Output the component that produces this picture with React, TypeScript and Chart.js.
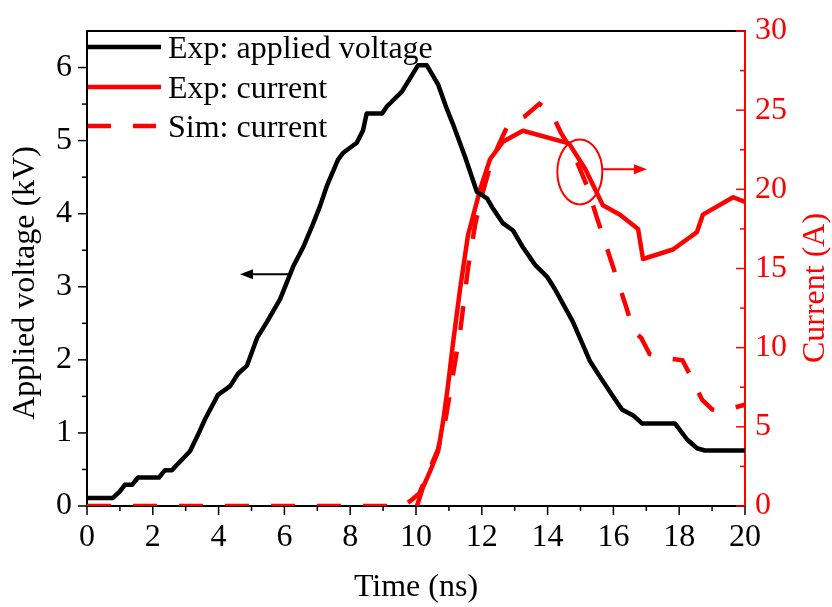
import React, { useEffect, useRef } from 'react';
import { Chart, registerables } from 'chart.js';

Chart.register(...registerables);

// ---------- data ----------
const voltageTime = [
  0, 0.79, 1.0, 1.15, 1.37, 1.55, 2.19, 2.37, 2.58, 2.83, 3.13, 3.37, 3.59, 3.98, 4.35, 4.59, 4.86,
  5.17, 5.47, 5.87, 6.27, 6.57, 6.87, 7.08, 7.29, 7.63, 7.78, 8.2, 8.39, 8.5, 8.97, 9.12, 9.57, 9.72,
  10.06, 10.33, 10.67, 10.94, 11.12, 11.49, 11.85, 12.16, 12.34, 12.64, 12.95, 13.25, 13.62, 13.98,
  14.22, 14.77, 15.29, 15.59, 15.99, 16.26, 16.6, 16.87, 17.87, 18.24, 18.54, 18.78, 20,
];
const voltageKV = [
  0.11, 0.11, 0.2, 0.29, 0.29, 0.39, 0.39, 0.49, 0.49, 0.61, 0.75, 0.97, 1.19, 1.52, 1.64, 1.81, 1.92,
  2.3, 2.52, 2.83, 3.28, 3.54, 3.86, 4.1, 4.38, 4.74, 4.83, 4.97, 5.14, 5.37, 5.37, 5.47, 5.67, 5.78,
  6.03, 6.03, 5.77, 5.43, 5.23, 4.78, 4.3, 4.21, 4.07, 3.87, 3.77, 3.54, 3.3, 3.14,
  2.97, 2.52, 1.98, 1.77, 1.5, 1.32, 1.24, 1.13, 1.13, 0.91, 0.79, 0.76, 0.76,
];

const expCurrentTime = [
  10.03, 10.21, 10.43, 10.67, 10.82, 10.97, 11.12, 11.34, 11.58, 11.95, 12.25, 12.64, 13.25, 14.65,
  15.14, 15.68, 16.2, 16.75, 16.9, 17.81, 18.54, 18.72, 19.64, 20,
];
const expCurrentA = [
  0, 1.17, 2.2, 3.44, 5.29, 7.56, 10.2, 13.7, 17.1, 20.0, 21.9, 23.0, 23.7, 22.9,
  21.3, 19.0, 18.4, 17.5, 15.6, 16.2, 17.3, 18.4, 19.5, 19.2,
];

const simCurrentTime = [
  0, 9.6, 9.82, 10.1, 10.35, 10.67, 10.9, 11.1, 11.34, 11.58, 11.8, 12.0, 12.3, 12.6, 12.85, 13.3,
  13.75, 14.1, 14.4, 14.8, 15.2, 15.5, 15.8, 16.1, 16.4, 16.6, 16.85, 17.1, 17.4, 18.1, 18.3, 18.7,
  19.0, 19.3, 20,
];
const simCurrentA = [
  0, 0, 0.3, 0.8, 2.0, 3.6, 5.5, 8.0, 11.0, 15.0, 17.8, 19.6, 21.8, 23.2, 24.3, 24.6,
  25.4, 24.9, 23.6, 22.2, 20.2, 18.2, 16.3, 14.4, 12.5, 11.1, 10.6, 9.6, 9.4, 9.2, 8.4, 6.7,
  6.1, 6.0, 6.4,
];

const legendLabels = ['Exp: applied voltage', 'Exp: current', 'Sim: current'];
const xTitle = 'Time (ns)';
const yTitle = 'Applied voltage (kV)';
const y2Title = 'Current (A)';

// annotation anchors in data units
const voltageArrow = { fromT: 6.11, toT: 4.65, kV: 3.17 };
const currentEllipse = { t: 14.98, amps: 21.1 };
const currentArrow = { fromT: 15.68, toT: 17.02, amps: 21.27 };

// ---------- styles ----------
const SERIF = '"Liberation Serif", "Times New Roman", Times, serif';
const RED = '#ff0000';
const BLACK = '#000000';

const pts = (xs: number[], ys: number[]) => xs.map((x, i) => ({ x, y: ys[i] }));

function arrow(ctx: CanvasRenderingContext2D, x1: number, y: number, x2: number, color: string) {
  const dir = x2 > x1 ? 1 : -1;
  const head = 13;
  ctx.strokeStyle = color;
  ctx.fillStyle = color;
  ctx.lineWidth = 2;
  ctx.beginPath();
  ctx.moveTo(x1, y);
  ctx.lineTo(x2 - dir * head, y);
  ctx.stroke();
  ctx.beginPath();
  ctx.moveTo(x2, y);
  ctx.lineTo(x2 - dir * head, y - 5);
  ctx.lineTo(x2 - dir * head, y + 5);
  ctx.closePath();
  ctx.fill();
}

const decorPlugin = {
  id: 'decor',
  afterDraw(chart: any) {
    const { ctx, chartArea: ca, scales } = chart;
    const { x, y, y2 } = scales;
    ctx.save();
    ctx.setLineDash([]);
    ctx.lineCap = 'butt';

    // top frame line
    ctx.strokeStyle = BLACK;
    ctx.lineWidth = 2;
    ctx.beginPath();
    ctx.moveTo(ca.left, ca.top);
    ctx.lineTo(ca.right, ca.top);
    ctx.stroke();

    // tick marks
    ctx.lineWidth = 1.5;
    ctx.strokeStyle = BLACK;
    x.ticks.forEach((t: any) => {
      const px = x.getPixelForValue(t.value);
      const len = t.value % 2 === 0 ? 9 : 5;
      ctx.beginPath();
      ctx.moveTo(px, ca.bottom);
      ctx.lineTo(px, ca.bottom + len);
      ctx.stroke();
    });
    y.ticks.forEach((t: any) => {
      if (t.value > 6) return;
      const py = y.getPixelForValue(t.value);
      const len = Number.isInteger(t.value) ? 9 : 5;
      ctx.beginPath();
      ctx.moveTo(ca.left - len, py);
      ctx.lineTo(ca.left, py);
      ctx.stroke();
    });
    ctx.strokeStyle = RED;
    y2.ticks.forEach((t: any) => {
      const py = y2.getPixelForValue(t.value);
      const len = t.value % 5 === 0 ? 9 : 5;
      ctx.beginPath();
      ctx.moveTo(ca.right - len, py);
      ctx.lineTo(ca.right, py);
      ctx.stroke();
    });

    // annotations
    const vy = y.getPixelForValue(voltageArrow.kV);
    arrow(ctx, x.getPixelForValue(voltageArrow.fromT), vy, x.getPixelForValue(voltageArrow.toT), BLACK);
    ctx.strokeStyle = RED;
    ctx.lineWidth = 2;
    ctx.beginPath();
    ctx.ellipse(x.getPixelForValue(currentEllipse.t), y2.getPixelForValue(currentEllipse.amps), 22.5, 32.5, 0, 0, Math.PI * 2);
    ctx.stroke();
    const cy = y2.getPixelForValue(currentArrow.amps);
    arrow(ctx, x.getPixelForValue(currentArrow.fromT), cy, x.getPixelForValue(currentArrow.toT), RED);

    // legend
    const rows = [
      { dy: 16, color: BLACK, dash: [] as number[] },
      { dy: 56, color: RED, dash: [] as number[] },
      { dy: 95, color: RED, dash: [23, 22] },
    ];
    ctx.font = `32px ${SERIF}`;
    ctx.textBaseline = 'alphabetic';
    ctx.textAlign = 'left';
    rows.forEach((r, i) => {
      const ly = ca.top + r.dy;
      ctx.strokeStyle = r.color;
      ctx.lineWidth = 4.5;
      ctx.setLineDash(r.dash);
      ctx.beginPath();
      ctx.moveTo(ca.left + 1, ly);
      ctx.lineTo(ca.left + 74, ly);
      ctx.stroke();
      ctx.setLineDash([]);
      ctx.fillStyle = BLACK;
      ctx.fillText(legendLabels[i], ca.left + 81, ly + 11);
    });

    // axis titles
    ctx.font = `32px ${SERIF}`;
    ctx.fillStyle = BLACK;
    ctx.textAlign = 'center';
    ctx.fillText(xTitle, (ca.left + ca.right) / 2, 596);

    ctx.save();
    ctx.translate(34, 283);
    ctx.rotate(-Math.PI / 2);
    ctx.fillText(yTitle, 0, 0);
    ctx.restore();

    ctx.save();
    ctx.fillStyle = RED;
    ctx.translate(824, 288);
    ctx.rotate(-Math.PI / 2);
    ctx.fillText(y2Title, 0, 0);
    ctx.restore();

    ctx.restore();
  },
};

export default function App() {
  const canvasRef = useRef<HTMLCanvasElement | null>(null);

  useEffect(() => {
    const canvas = canvasRef.current;
    if (!canvas) return;
    const tickFont = { family: SERIF, size: 32, lineHeight: 1.0 };
    const chart = new Chart(canvas, {
      type: 'line',
      data: {
        datasets: [
          {
            label: legendLabels[0],
            data: pts(voltageTime, voltageKV),
            yAxisID: 'y',
            borderColor: BLACK,
            borderWidth: 4.5,
            pointRadius: 0,
            tension: 0,
            borderJoinStyle: 'round',
            fill: false,
          },
          {
            label: legendLabels[1],
            data: pts(expCurrentTime, expCurrentA),
            yAxisID: 'y2',
            borderColor: RED,
            borderWidth: 4.5,
            pointRadius: 0,
            tension: 0,
            borderJoinStyle: 'round',
            fill: false,
          },
          {
            label: legendLabels[2],
            data: pts(simCurrentTime, simCurrentA),
            yAxisID: 'y2',
            borderColor: RED,
            borderWidth: 4.5,
            borderDash: [24, 22],
            pointRadius: 0,
            tension: 0,
            fill: false,
          },
        ],
      } as any,
      options: {
        responsive: false,
        devicePixelRatio: 1,
        animation: false,
        layout: { padding: { top: 17, left: 0, right: 0, bottom: 0 } },
        plugins: { legend: { display: false }, tooltip: { enabled: false } },
        scales: {
          x: {
            type: 'linear',
            min: 0,
            max: 20,
            ticks: {
              stepSize: 1,
              autoSkip: false,
              maxRotation: 0,
              color: BLACK,
              font: tickFont,
              padding: 16,
              callback: (v: any) => (v % 2 === 0 ? String(v) : ''),
            },
            grid: { display: false, drawTicks: false },
            border: { display: true, color: BLACK, width: 2 },
            afterFit: (s: any) => { s.height = 101; },
          },
          y: {
            type: 'linear',
            position: 'left',
            min: 0,
            max: 6.5,
            ticks: {
              stepSize: 0.5,
              autoSkip: false,
              color: BLACK,
              font: tickFont,
              padding: 15,
              callback: (v: any) => (Number.isInteger(v) ? String(v) : ''),
            },
            grid: { display: false, drawTicks: false },
            border: { display: true, color: BLACK, width: 2 },
            afterFit: (s: any) => { s.width = 87; },
          },
          y2: {
            type: 'linear',
            position: 'right',
            min: 0,
            max: 30,
            ticks: {
              stepSize: 2.5,
              autoSkip: false,
              color: RED,
              font: tickFont,
              padding: 10,
              callback: (v: any) => (v % 5 === 0 ? String(v) : ''),
            },
            grid: { display: false, drawTicks: false },
            border: { display: true, color: RED, width: 2 },
            afterFit: (s: any) => { s.width = 87; },
          },
        },
      } as any,
      plugins: [decorPlugin],
    });
    return () => chart.destroy();
  }, []);

  return (
    <div style={{ position: 'absolute', left: 0, top: 0, width: 832, height: 607, background: '#fff' }}>
      <canvas ref={canvasRef} width={832} height={607} style={{ display: 'block' }} />
    </div>
  );
}
